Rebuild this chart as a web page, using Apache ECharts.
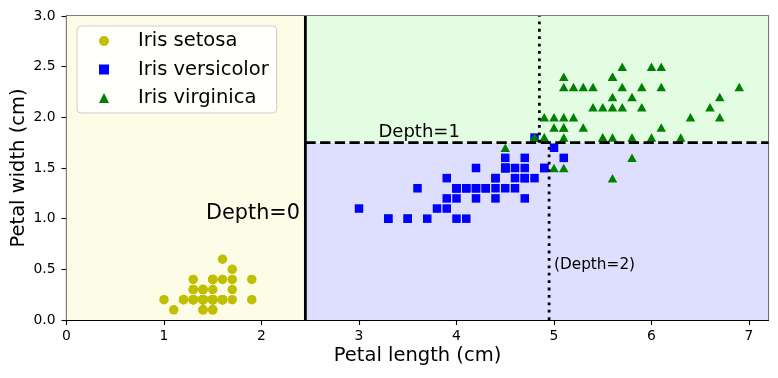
<!DOCTYPE html>
<html>
<head>
<meta charset="utf-8">
<script src="https://cdn.jsdelivr.net/npm/echarts@6/dist/echarts.min.js"></script>
<style>html,body{margin:0;padding:0;background:#fff;}#c{width:778px;height:378px;}</style>
</head>
<body>
<div id="c"></div>
<script>
// ---- data (Iris petal length / petal width) ----
const setosaLength = [1.4,1.4,1.3,1.5,1.4,1.7,1.4,1.5,1.4,1.5,1.5,1.6,1.4,1.1,1.2,1.5,1.3,1.4,1.7,1.5,1.7,1.5,1.0,1.7,1.9,1.6,1.6,1.5,1.4,1.6,1.6,1.5,1.5,1.4,1.5,1.2,1.3,1.4,1.3,1.5,1.3,1.3,1.3,1.6,1.9,1.4,1.6,1.4,1.5,1.4];
const setosaWidth  = [0.2,0.2,0.2,0.2,0.2,0.4,0.3,0.2,0.2,0.1,0.2,0.2,0.1,0.1,0.2,0.4,0.4,0.3,0.3,0.3,0.2,0.4,0.2,0.5,0.2,0.2,0.4,0.2,0.2,0.2,0.2,0.4,0.1,0.2,0.2,0.2,0.2,0.1,0.2,0.2,0.3,0.3,0.2,0.6,0.4,0.3,0.2,0.2,0.2,0.2];
const versicolorLength = [4.7,4.5,4.9,4.0,4.6,4.5,4.7,3.3,4.6,3.9,3.5,4.2,4.0,4.7,3.6,4.4,4.5,4.1,4.5,3.9,4.8,4.0,4.9,4.7,4.3,4.4,4.8,5.0,4.5,3.5,3.8,3.7,3.9,5.1,4.5,4.5,4.7,4.4,4.1,4.0,4.4,4.6,4.0,3.3,4.2,4.2,4.2,4.3,3.0,4.1];
const versicolorWidth  = [1.4,1.5,1.5,1.3,1.5,1.3,1.6,1.0,1.3,1.4,1.0,1.5,1.0,1.4,1.3,1.4,1.5,1.0,1.5,1.1,1.8,1.3,1.5,1.2,1.3,1.4,1.4,1.7,1.5,1.0,1.1,1.0,1.2,1.6,1.5,1.6,1.5,1.3,1.3,1.3,1.2,1.4,1.2,1.0,1.3,1.2,1.3,1.3,1.1,1.3];
const virginicaLength = [6.0,5.1,5.9,5.6,5.8,6.6,4.5,6.3,5.8,6.1,5.1,5.3,5.5,5.0,5.1,5.3,5.5,6.7,6.9,5.0,5.7,4.9,6.7,4.9,5.7,6.0,4.8,4.9,5.6,5.8,6.1,6.4,5.6,5.1,5.6,6.1,5.6,5.5,4.8,5.4,5.6,5.1,5.1,5.9,5.7,5.2,5.0,5.2,5.4,5.1];
const virginicaWidth  = [2.5,1.9,2.1,1.8,2.2,2.1,1.7,1.8,1.8,2.5,2.0,1.9,2.1,2.0,2.4,2.3,1.8,2.2,2.3,1.5,2.3,2.0,2.0,1.8,2.1,1.8,1.8,1.8,2.1,1.6,1.9,2.0,2.2,1.5,1.4,2.3,2.4,1.8,1.8,2.1,2.4,2.3,1.9,2.3,2.5,2.3,1.9,2.0,2.3,1.8];

const seriesNames = ['Iris setosa', 'Iris versicolor', 'Iris virginica'];
const xTicks = [0, 1, 2, 3, 4, 5, 6, 7];
const yTicks = [0, 0.5, 1.0, 1.5, 2.0, 2.5, 3.0];
const xRange = [0, 7.2];
const yRange = [0, 3];

// decision tree splits
const splitDepth0X = 2.45;
const splitDepth1Y = 1.75;
const splitDepth2LowX = 4.95;
const splitDepth2HighX = 4.85;

const depthTexts = ['Depth=0', 'Depth=1', '(Depth=2)'];
const depthTextX = [1.40, 3.2, 5.0];
const depthTextY = [1.0, 1.80, 0.5];

// ---- build ----
const zip = (a, b) => a.map((v, i) => [v, b[i]]);
const FONT = 'DejaVu Sans';

const chart = echarts.init(document.getElementById('c'), null, {renderer: 'canvas'});

const lineStyleBase = {color: '#000', width: 2.8};
const textOffsets = [[3, 5], [0, 4], [0, 3]];
const textSizes = [20.8, 18, 15.3];

const option = {
  animation: false,
  backgroundColor: '#ffffff',
  textStyle: {fontFamily: FONT},
  grid: {left: 66.5, right: 9.5, top: 16, bottom: 58, show: true, borderColor: '#000', borderWidth: 1.1,
    backgroundColor: 'transparent', outerBoundsMode: 'none', containLabel: false},
  legend: {
    orient: 'vertical',
    left: 77, top: 26,
    padding: [5, 8, 5, 22],
    itemWidth: 10, itemHeight: 10,
    itemGap: 8.5,
    backgroundColor: 'rgba(255,255,255,0.85)',
    borderColor: '#cccccc', borderWidth: 1, borderRadius: 4,
    textStyle: {fontFamily: FONT, fontSize: 19.5, color: '#000', lineHeight: 20, padding: [0, 0, 0, 24]},
    data: seriesNames
  },
  xAxis: {
    type: 'value', min: xRange[0], max: xRange[1], interval: 1,
    name: 'Petal length (cm)', nameLocation: 'middle', nameGap: 26, nameMoveOverlap: false,
    nameTextStyle: {fontFamily: FONT, fontSize: 19.5, color: '#000'},
    splitLine: {show: false},
    axisLine: {show: true, lineStyle: {color: '#000', width: 1.1}},
    axisTick: {show: true, length: 5, lineStyle: {color: '#000', width: 1.1}, customValues: xTicks},
    axisLabel: {fontFamily: FONT, fontSize: 13.9, color: '#000', margin: 9, customValues: xTicks}
  },
  yAxis: {
    type: 'value', min: yRange[0], max: yRange[1], interval: 0.5,
    name: 'Petal width (cm)', nameLocation: 'middle', nameGap: 38, nameMoveOverlap: false,
    nameTextStyle: {fontFamily: FONT, fontSize: 19.5, color: '#000'},
    splitLine: {show: false},
    axisLine: {show: true, lineStyle: {color: '#000', width: 1.1}},
    axisTick: {show: true, length: 5, lineStyle: {color: '#000', width: 1.1}, customValues: yTicks},
    axisLabel: {fontFamily: FONT, fontSize: 13.9, color: '#000', margin: 11, customValues: yTicks,
      formatter: v => Number(v).toFixed(1)}
  },
  series: [
    {
      type: 'line', name: 'regions', data: [], z: 0, silent: true,
      markArea: {
        silent: true,
        data: [
          [{xAxis: xRange[0], yAxis: yRange[0], itemStyle: {color: '#fdfde7'}}, {xAxis: splitDepth0X, yAxis: yRange[1]}],
          [{xAxis: splitDepth0X, yAxis: yRange[0], itemStyle: {color: '#dedeff'}}, {xAxis: xRange[1], yAxis: splitDepth1Y}],
          [{xAxis: splitDepth0X, yAxis: splitDepth1Y, itemStyle: {color: '#e2fde2'}}, {xAxis: xRange[1], yAxis: yRange[1]}]
        ]
      }
    },
    {
      type: 'scatter', name: seriesNames[0], data: zip(setosaLength, setosaWidth),
      symbol: 'circle', symbolSize: 9.5, itemStyle: {color: '#bfbf00', opacity: 1}, z: 3
    },
    {
      type: 'scatter', name: seriesNames[1], data: zip(versicolorLength, versicolorWidth),
      symbol: 'rect', symbolSize: 8.5, itemStyle: {color: '#0000ff', opacity: 1}, z: 3
    },
    {
      type: 'scatter', name: seriesNames[2], data: zip(virginicaLength, virginicaWidth),
      symbol: 'triangle', symbolSize: [9.5, 8.5], itemStyle: {color: '#008000', opacity: 1}, z: 3
    },
    {
      type: 'line', name: 'split0', data: [[splitDepth0X, yRange[0]], [splitDepth0X, yRange[1]]],
      symbol: 'none', lineStyle: Object.assign({}, lineStyleBase, {type: 'solid'}), z: 4, silent: true
    },
    {
      type: 'line', name: 'split1', data: [[splitDepth0X, splitDepth1Y], [xRange[1], splitDepth1Y]],
      symbol: 'none', lineStyle: Object.assign({}, lineStyleBase, {type: [10.3, 4.4]}), z: 4, silent: true
    },
    {
      type: 'line', name: 'split2a', data: [[splitDepth2LowX, yRange[0]], [splitDepth2LowX, splitDepth1Y]],
      symbol: 'none', lineStyle: Object.assign({}, lineStyleBase, {type: [2.8, 4.6]}), z: 4, silent: true
    },
    {
      type: 'line', name: 'split2b', data: [[splitDepth2HighX, splitDepth1Y], [splitDepth2HighX, yRange[1]]],
      symbol: 'none', lineStyle: Object.assign({}, lineStyleBase, {type: [2.8, 4.6]}), z: 4, silent: true
    },
    {
      type: 'scatter', name: 'texts', z: 5, silent: true,
      symbolSize: 0,
      data: depthTexts.map((t, i) => ({
        value: [depthTextX[i], depthTextY[i]],
        label: {
          show: true, formatter: t, position: [0, 0], align: 'left', verticalAlign: 'bottom',
          offset: textOffsets[i],
          fontFamily: FONT, color: '#000', fontSize: textSizes[i],
          textBorderWidth: 0, opacity: 1
        }
      }))
    }
  ]
};
chart.setOption(option);
</script>
</body>
</html>
